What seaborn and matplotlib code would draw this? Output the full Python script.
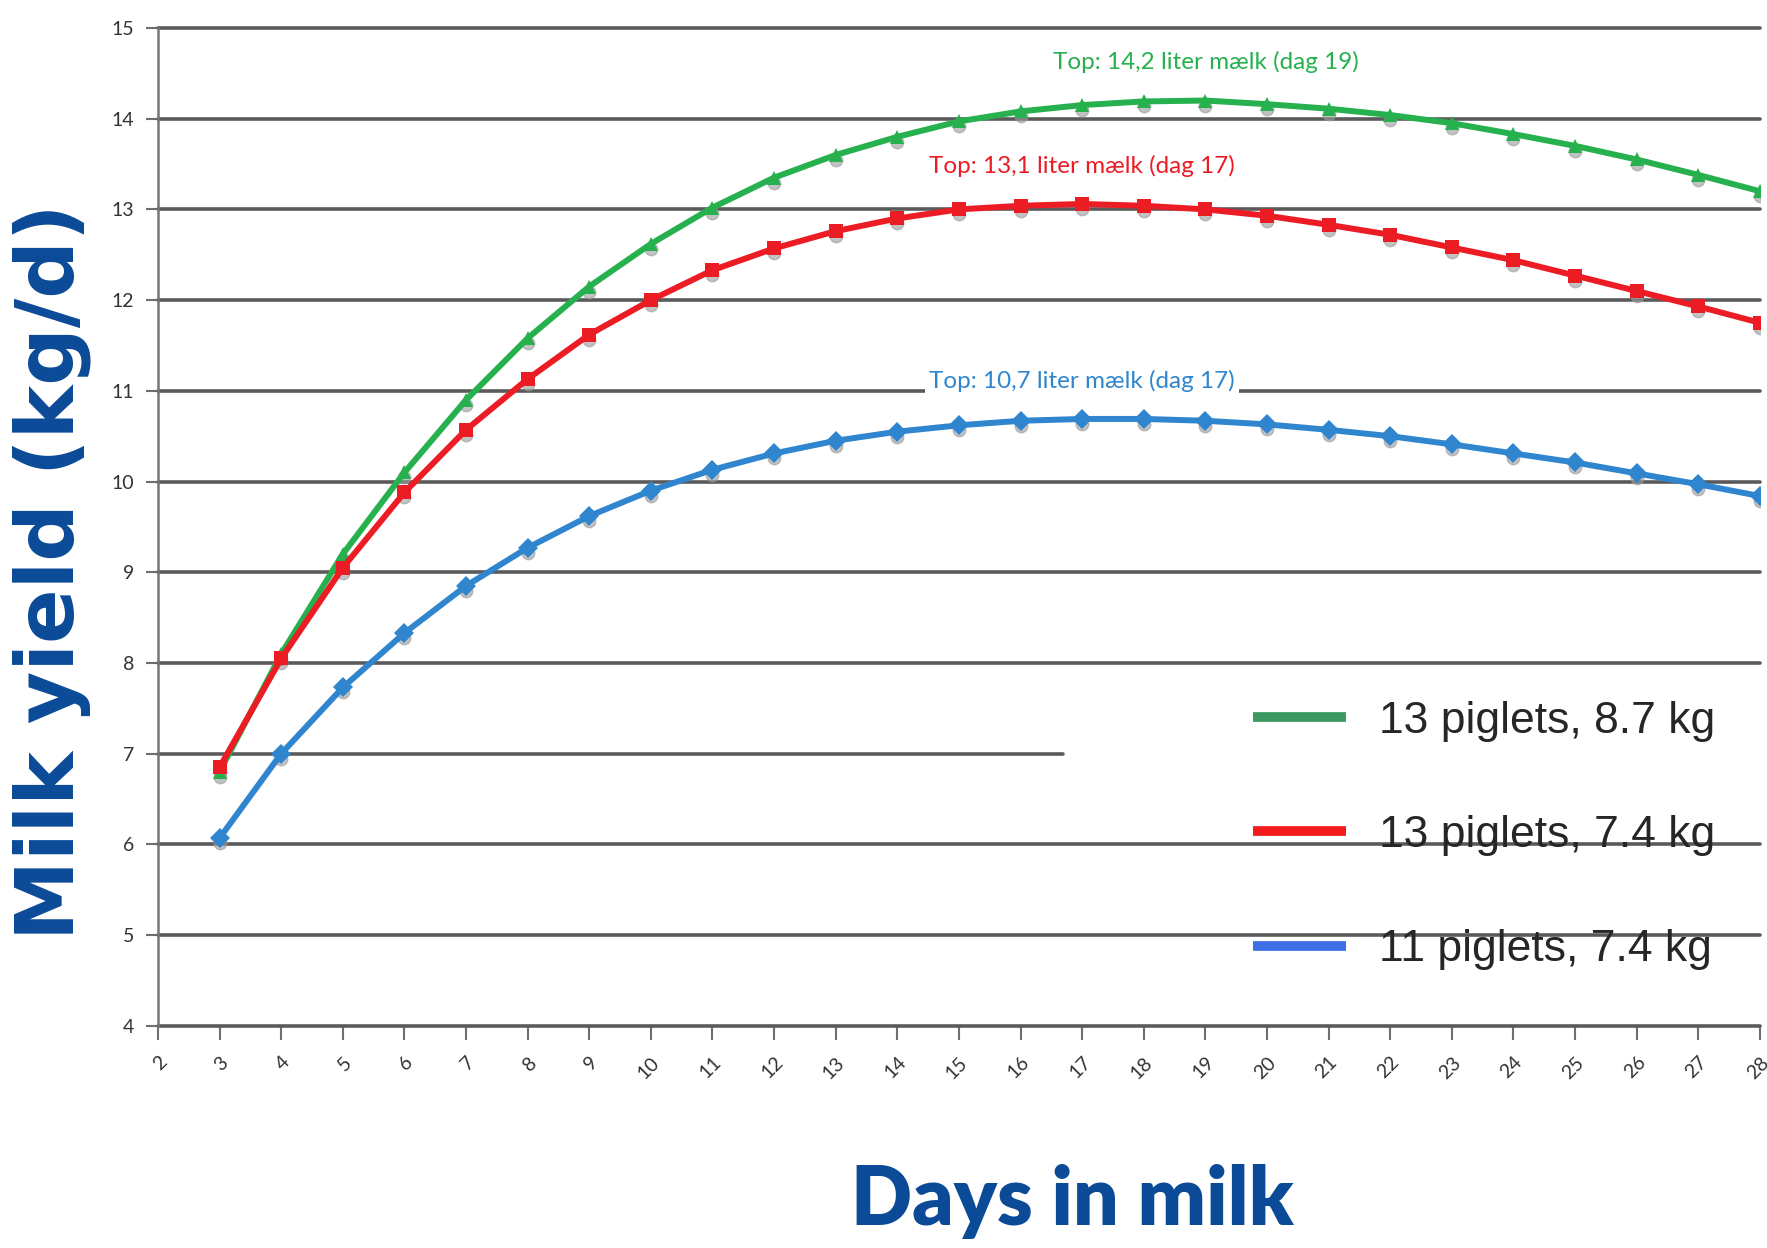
import matplotlib
matplotlib.use("Agg")
import matplotlib.pyplot as plt
import pandas as pd
import seaborn as sns
from matplotlib.lines import Line2D
from matplotlib.transforms import offset_copy

# ------------------------------
# Data
# ------------------------------
days = list(range(3, 29))

green_13_87 = [6.80, 8.10, 9.20, 10.10, 10.90, 11.58, 12.15, 12.62, 13.02, 13.35,
               13.60, 13.80, 13.97, 14.08, 14.15, 14.19, 14.20, 14.16, 14.11, 14.04,
               13.95, 13.83, 13.70, 13.55, 13.38, 13.20]
red_13_74 = [6.85, 8.05, 9.05, 9.88, 10.57, 11.13, 11.62, 12.00, 12.33, 12.57,
             12.76, 12.90, 13.00, 13.04, 13.06, 13.04, 13.00, 12.93, 12.83, 12.72,
             12.58, 12.44, 12.27, 12.10, 11.93, 11.75]
blue_11_74 = [6.07, 7.00, 7.73, 8.33, 8.85, 9.27, 9.62, 9.90, 10.13, 10.31,
              10.45, 10.55, 10.62, 10.67, 10.69, 10.69, 10.67, 10.63, 10.57, 10.50,
              10.41, 10.31, 10.21, 10.09, 9.97, 9.84]

series_names = ["13 piglets, 8.7 kg", "13 piglets, 7.4 kg", "11 piglets, 7.4 kg"]
series_values = [green_13_87, red_13_74, blue_11_74]
line_colors = ["#27b04e", "#ec1c24", "#2f86cf"]
legend_colors = ["#3a9a62", "#f21a1a", "#3f6fe6"]
markers = ["^", "s", "D"]

peak_labels = ["Top: 14,2 liter mælk (dag 19)",
               "Top: 13,1 liter mælk (dag 17)",
               "Top: 10,7 liter mælk (dag 17)"]
peak_days = [19, 17, 17]
peak_values = [14.2, 13.06, 10.69]

y_ticks = list(range(4, 16))
x_ticks = list(range(2, 29))

df = pd.DataFrame({
    "day": days * 3,
    "yield": green_13_87 + red_13_74 + blue_11_74,
    "group": [n for n in series_names for _ in days],
})

sns.set_style("white")
plt.rcParams["font.family"] = ["Lato", "DejaVu Sans"]

fig, ax = plt.subplots(figsize=(17.67, 12.48), dpi=100)
fig.subplots_adjust(left=0.0894, right=0.996, top=0.9776, bottom=0.178)

# gridlines (the one at 7 stops half way, as in the original)
for yv in y_ticks:
    xmax = 0.565 if yv == 7 else 1.0
    ax.axhline(yv, xmin=0, xmax=xmax, color="#5a5a5a", lw=2.6, zorder=1, clip_on=False)

# grey marker shadows
shadow = offset_copy(ax.transData, fig=fig, x=0, y=-5, units="dots")
for vals in series_values:
    ax.plot(days, vals, ls="none", marker="o", ms=9, color="#9a9a9a",
            alpha=0.6, transform=shadow, zorder=2)

sns.lineplot(data=df, x="day", y="yield", hue="group", style="group",
             hue_order=series_names, style_order=series_names,
             palette=dict(zip(series_names, line_colors)),
             markers=dict(zip(series_names, markers)), dashes=False,
             lw=4.3, markersize=10, markeredgewidth=0, legend=False, ax=ax, zorder=3)

# peak annotations
for lab, d, v, c in zip(peak_labels, peak_days, peak_values, line_colors):
    ax.text(d, v + 0.42, lab, color=c, fontsize=17.5, ha="center", va="center",
            zorder=4, bbox=dict(facecolor="white", edgecolor="none", pad=3))

ax.set_xlim(2, 28)
ax.set_ylim(4, 15)
ax.set_xticks(x_ticks)
ax.set_yticks(y_ticks)
ax.set_xticklabels([str(t) for t in x_ticks], rotation=45, ha="right",
                   rotation_mode="anchor")
ax.tick_params(axis="x", direction="out", length=10, width=1.5, color="#6f6f6f",
               labelsize=14, labelcolor="#333333", pad=10, bottom=True)
ax.tick_params(axis="y", direction="out", length=9, width=1.5, color="#6f6f6f",
               labelsize=14, labelcolor="#333333", pad=8, left=True)

for s in ["top", "right", "bottom"]:
    ax.spines[s].set_visible(False)
ax.spines["left"].set_color("#777777")
ax.spines["left"].set_linewidth(1.8)

ax.set_ylabel("Milk yield (kg/d)", fontsize=58, fontweight="bold", color="#0b4a97",
              family="DejaVu Sans")
ax.yaxis.label.set_verticalalignment("center")
ax.yaxis.set_label_coords(-0.066, 0.455)
ax.set_xlabel("Days in milk", fontsize=58, fontweight="heavy", color="#0b4a97")
ax.xaxis.set_label_coords(0.571, -0.138)

handles = [Line2D([], [], color=c, lw=7, solid_capstyle="butt") for c in legend_colors]
ax.legend(handles, series_names, loc="upper left", bbox_to_anchor=(0.664, 0.357),
          frameon=False, handlelength=2.1, handletextpad=0.75, borderpad=0.2,
          labelspacing=1.65, prop={"family": ["Liberation Sans", "Lato"], "size": 32})

fig.savefig("out.png", dpi=100)
